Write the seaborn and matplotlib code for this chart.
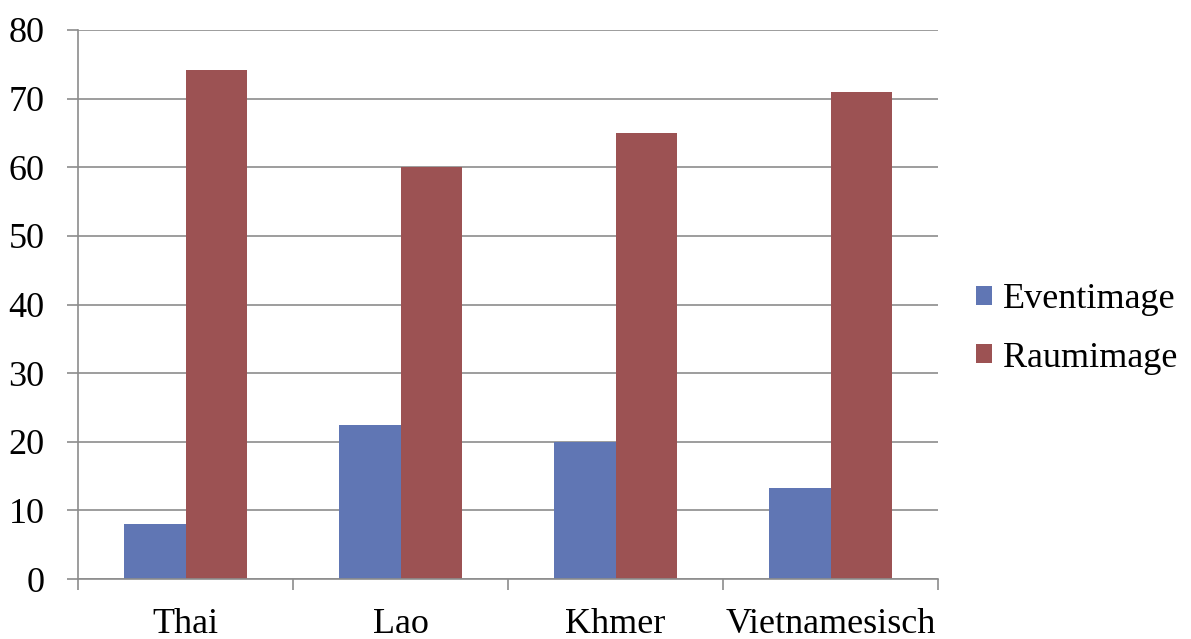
import matplotlib
matplotlib.use("Agg")
import matplotlib.pyplot as plt
import seaborn as sns
import pandas as pd

# Survey results per language group
categories = ["Thai", "Lao", "Khmer", "Vietnamesisch"]
eventimage = [8.0, 22.4, 20.0, 13.2]
raumimage = [74.2, 60.0, 65.0, 71.0]
series_names = ["Eventimage", "Raumimage"]
y_ticks = [0, 10, 20, 30, 40, 50, 60, 70, 80]

df = pd.DataFrame({
    "Sprache": categories * 2,
    "Wert": eventimage + raumimage,
    "Serie": [series_names[0]] * len(categories) + [series_names[1]] * len(categories),
})

sns.set_theme(style="white")
plt.rcParams["font.family"] = ["Liberation Serif", "DejaVu Serif"]
plt.rcParams["text.color"] = "black"
plt.rcParams["xtick.labelcolor"] = "black"
plt.rcParams["ytick.labelcolor"] = "black"

fig = plt.figure(figsize=(11.91, 6.39), dpi=100)
ax = fig.add_axes([78 / 1191, 60 / 639, (938 - 78) / 1191, (579 - 30) / 639])

palette = {"Eventimage": "#6076B4", "Raumimage": "#9C5253"}
sns.barplot(data=df, x="Sprache", y="Wert", hue="Serie", order=categories,
            hue_order=series_names, palette=palette, width=0.573, gap=0,
            saturation=1, ax=ax, legend=True, linewidth=0)

grid_col = "#8c8c8c"
fs = 26
ax.set_ylim(0, 80)
ax.set_xlim(-0.5, len(categories) - 0.5)
ax.set_yticks(y_ticks)
ax.set_yticklabels([str(v) for v in y_ticks])
ax.yaxis.grid(True, color=grid_col, linewidth=1.2)
ax.set_axisbelow(True)

# category labels centred, tick marks on the category boundaries
ax.set_xticks(range(len(categories)))
ax.set_xticklabels(categories)
ax.set_xticks([i - 0.5 for i in range(len(categories) + 1)], minor=True)
ax.tick_params(axis="x", which="major", length=0, pad=21, labelsize=fs, labelcolor="black")
ax.tick_params(axis="x", which="minor", length=8, width=1.2, color=grid_col, direction="out", bottom=True)
ax.tick_params(axis="y", which="major", length=8, width=1.2, color=grid_col, direction="out",
               pad=16, labelsize=fs, labelcolor="black", left=True)

ax.set_xlabel("")
ax.set_ylabel("")
for side in ["top", "right"]:
    ax.spines[side].set_visible(False)
for side in ["left", "bottom"]:
    ax.spines[side].set_color(grid_col)
    ax.spines[side].set_linewidth(1.2)

leg = ax.legend(loc="center left", bbox_to_anchor=(958 / 1191, 1 - 329 / 639), bbox_transform=fig.transFigure,
                frameon=False, fontsize=fs, handlelength=0.45, handleheight=0.45,
                handletextpad=0.3, labelspacing=0.7, borderpad=0, title=None)

fig.savefig("out.png", dpi=100)
